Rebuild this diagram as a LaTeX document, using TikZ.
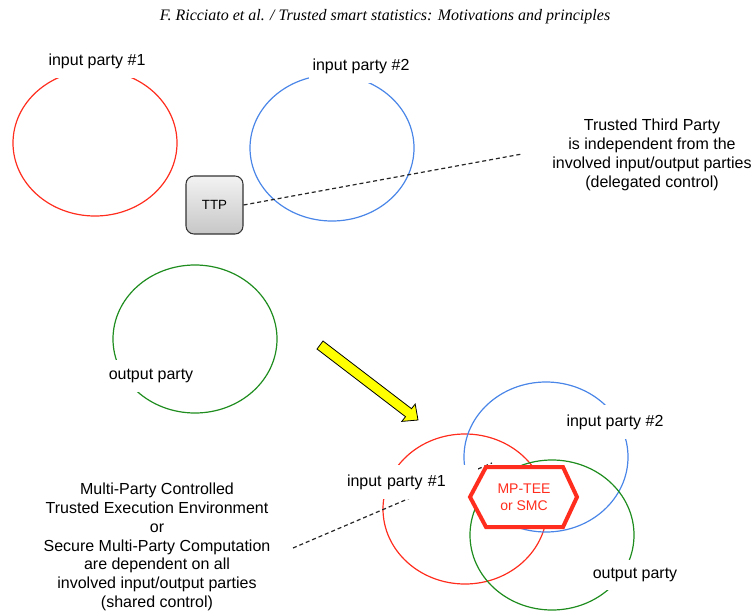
\documentclass[tikz,border=0pt]{standalone}
\usepackage{fontspec}
\setmainfont{Liberation Sans}
\newfontfamily\headfont{Liberation Serif}
\usetikzlibrary{shapes.geometric}

\definecolor{pred}{RGB}{255,45,30}
\definecolor{pblue}{RGB}{74,134,232}
\definecolor{pgreen}{RGB}{30,140,30}
\definecolor{arrowyellow}{RGB}{255,255,0}

\begin{document}
\begin{tikzpicture}[x=0.75pt,y=-0.75pt,
  party/.style={ellipse, draw, line width=0.9pt, minimum width=123pt,
    minimum height=109.5pt, inner sep=0pt},
  tag/.style={fill=white, inner xsep=3pt, inner ysep=7pt,
    font=\fontsize{12}{14}\selectfont},
  note/.style={align=center, inner sep=3pt, font=\fontsize{12}{14.1}\selectfont},
  link/.style={draw=black!85, line width=0.9pt, dash pattern=on 3pt off 2.2pt},
  ttpbox/.style={rounded corners=6pt, draw=black!80, line width=0.8pt,
    top color=black!5, bottom color=black!22, minimum width=42.75pt,
    minimum height=43.5pt, font=\fontsize{10}{12}\selectfont},
  hexborder/.style={draw=pred, fill=white, line width=3pt, line join=miter},
  hextext/.style={align=center, text=pred, font=\fontsize{10.5}{12.75}\selectfont},
  bigarrow/.style={draw=black, fill=arrowyellow, line width=0.6pt, line join=miter}]
\useasboundingbox (0,0) rectangle (756,613);

% running head
\node[font=\headfont\itshape\fontsize{12}{14}\selectfont] (head) at (385,17)
  {F. Ricciato et al. / Trusted smart statistics: Motivations and principles};

% ---- delegated control: separate parties and a third party ----
\node[party, draw=pred] (a1) at (95,143) {};
\node[party, draw=pblue] (a2) at (332,148) {};
\node[party, draw=pgreen, minimum height=111pt] (a3) at (195,339) {};
\node[tag] (a1t) at (97,61) {input party \#1};
\node[tag] (a2t) at (361,66) {input party \#2};
\node[tag] (a3t) at (151,376) {output party};

\node[note] (ttpnote) at (652,155)
  {Trusted Third Party\\is independent from the\\involved input/output parties\\(delegated control)};
\node[ttpbox] (ttp) at (214.5,205) {TTP};
\coordinate (ttpend) at (522,154);
\draw[link] (ttp.east) -- (ttpend);

% transition arrow
\path[bigarrow] (317,349) -- (405.5,416.7) -- (401.8,421.4) -- (418,420)
  -- (415.2,404) -- (411.5,408.7) -- (323,341) -- cycle;

% ---- shared control: overlapping parties ----
\node[party, draw=pred, minimum height=112.5pt] (b1) at (465,509) {};
\node[party, draw=pblue, minimum height=112.5pt] (b2) at (546,457) {};
\node[party, draw=pgreen, minimum height=112.5pt] (b3) at (552,535) {};

\node[note] (mpnote) at (157,547)
  {Multi-Party Controlled\\Trusted Execution Environment\\or\\Secure Multi-Party Computation\\are dependent on all\\involved input/output parties\\(shared control)};
\coordinate (mpstart) at (293,548);
\coordinate (mpend) at (492,463);
\draw[link] (mpstart) -- (mpend);

\node[tag, text width=95.25pt, align=left, minimum height=24pt] (b1t) at (410.5,482) {input party \#1};
\node[tag] (b2t) at (615,422) {input party \#2};
\node[tag, inner ysep=6pt] (b3t) at (635,575) {output party};

\path[hexborder] (486,467) -- (563,467) -- (577,497) -- (563,527)
  -- (486,527) -- (470,497) -- cycle;
\node[hextext] (mp) at (524,497) {MP-TEE\\or SMC};
\end{tikzpicture}
\end{document}
